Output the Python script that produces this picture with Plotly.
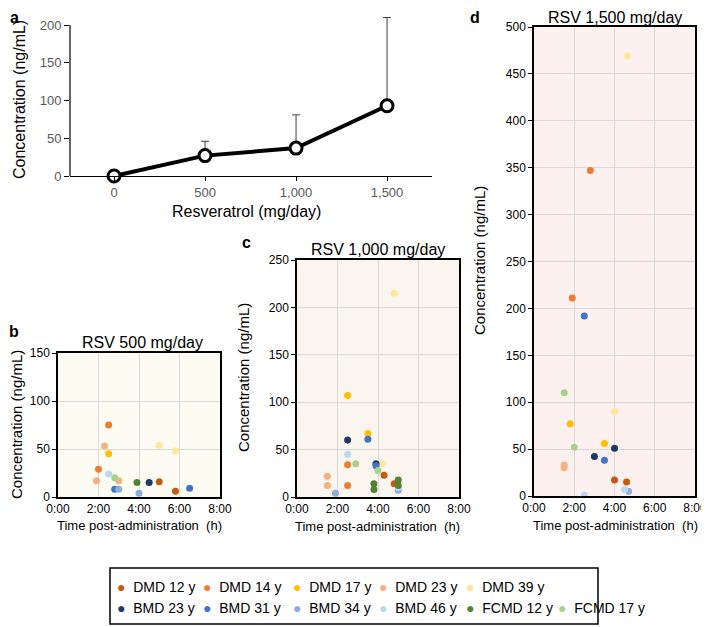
import plotly.graph_objects as go

# ---------------- data ----------------
doses = [0, 500, 1000, 1500]
mean_conc = [0, 27, 37, 93]
sd_plus = [0, 19, 44, 117]

subjects = ["DMD 12 y", "DMD 14 y", "DMD 17 y", "DMD 23 y", "DMD 39 y",
            "BMD 23 y", "BMD 31 y", "BMD 34 y", "BMD 46 y", "FCMD 12 y", "FCMD 17 y"]
colors = ["#C55A11", "#ED7D31", "#FFC000", "#F4B183", "#FFE699",
          "#203864", "#4472C4", "#8FAADC", "#BDD7EE", "#548235", "#A9D18E"]

# RSV 500 mg/day: time (h), concentration (ng/mL)
b_time = {
    "DMD 12 y": [5.0, 5.8], "DMD 14 y": [2.5, 2.0], "DMD 17 y": [2.5],
    "DMD 23 y": [2.3, 1.9, 3.0], "DMD 39 y": [5.0, 5.8], "BMD 23 y": [4.5],
    "BMD 31 y": [2.8, 6.5], "BMD 34 y": [3.0, 4.0], "BMD 46 y": [2.5],
    "FCMD 12 y": [3.9], "FCMD 17 y": [2.8]}
b_conc = {
    "DMD 12 y": [16, 6], "DMD 14 y": [75, 29], "DMD 17 y": [45],
    "DMD 23 y": [53, 17, 17], "DMD 39 y": [54, 48], "BMD 23 y": [15],
    "BMD 31 y": [8, 9], "BMD 34 y": [8, 4], "BMD 46 y": [24],
    "FCMD 12 y": [15], "FCMD 17 y": [20]}

# RSV 1,000 mg/day
c_time = {
    "DMD 12 y": [4.3, 4.8], "DMD 14 y": [2.5, 2.5], "DMD 17 y": [2.5, 3.5],
    "DMD 23 y": [1.5, 1.5], "DMD 39 y": [4.8, 4.2], "BMD 23 y": [2.5, 3.9],
    "BMD 31 y": [3.5, 3.9], "BMD 34 y": [1.9, 5.0], "BMD 46 y": [2.5, 5.0],
    "FCMD 12 y": [3.8, 3.8, 5.0, 5.0], "FCMD 17 y": [2.9, 4.0]}
c_conc = {
    "DMD 12 y": [23, 14], "DMD 14 y": [34, 12], "DMD 17 y": [107, 67],
    "DMD 23 y": [22, 12], "DMD 39 y": [215, 35], "BMD 23 y": [60, 35],
    "BMD 31 y": [61, 33], "BMD 34 y": [4, 7], "BMD 46 y": [45, 10],
    "FCMD 12 y": [14, 8, 18, 12], "FCMD 17 y": [35, 28]}

# RSV 1,500 mg/day
d_time = {
    "DMD 12 y": [4.0, 4.6], "DMD 14 y": [2.8, 1.9], "DMD 17 y": [1.8, 3.5],
    "DMD 23 y": [1.5, 1.5], "DMD 39 y": [4.65, 4.0], "BMD 23 y": [4.0, 3.0],
    "BMD 31 y": [2.5, 3.5], "BMD 34 y": [4.7], "BMD 46 y": [2.5, 4.5],
    "FCMD 12 y": [], "FCMD 17 y": [1.5, 2.0]}
d_conc = {
    "DMD 12 y": [17, 15], "DMD 14 y": [347, 211], "DMD 17 y": [77, 56],
    "DMD 23 y": [33, 30], "DMD 39 y": [469, 90], "BMD 23 y": [51, 42],
    "BMD 31 y": [192, 38], "BMD 34 y": [5], "BMD 46 y": [1, 7],
    "FCMD 12 y": [], "FCMD 17 y": [110, 52]}

time_ticks = [0, 2, 4, 6, 8]
time_labels = ["0:00", "2:00", "4:00", "6:00", "8:00"]
dose_ticks = [0, 500, 1000, 1500]
dose_labels = ["0", "500", "1,000", "1,500"]

# ---------------- layout helpers ----------------
# page body has an 8px margin; figure is sized so that it fills the window
OFF = 8
W, H = 709 - OFF, 627 - OFF
FONT = "Liberation Sans, Arial, sans-serif"

def px_x(p):
    return (p - OFF) / W

def px_y(p):
    return 1 - (p - OFF) / H

fig = go.Figure()

# panel a
fig.add_trace(go.Scatter(
    x=doses, y=mean_conc, mode="lines+markers", xaxis="x", yaxis="y",
    line=dict(color="black", width=4),
    marker=dict(size=12, color="white", line=dict(color="black", width=3)),
    error_y=dict(type="data", symmetric=False, array=sd_plus,
                 arrayminus=[0] * len(sd_plus), color="#404040",
                 thickness=1, width=4),
    cliponaxis=False, showlegend=False))

# panels b, c, d
for (tdict, cdict, xa, ya) in [(b_time, b_conc, "x2", "y2"),
                               (c_time, c_conc, "x3", "y3"),
                               (d_time, d_conc, "x4", "y4")]:
    for s, col in zip(subjects, colors):
        if not tdict[s]:
            continue
        fig.add_trace(go.Scatter(
            x=tdict[s], y=cdict[s], mode="markers", name=s,
            xaxis=xa, yaxis=ya, marker=dict(size=7, color=col),
            cliponaxis=False, showlegend=False))

grid = "#D9D9D9"

def time_axis(x0, x1, anchor):
    return dict(domain=[px_x(x0), px_x(x1)], range=[0, 8], anchor=anchor,
                tickvals=time_ticks, ticktext=time_labels, automargin=False,
                showgrid=True, gridcolor=grid, gridwidth=1,
                showline=True, linecolor="black", linewidth=1.5, mirror=True,
                ticks="", zeroline=False,
                tickfont=dict(family=FONT, size=12, color="black"))

def conc_axis(y_bottom, y_top, rng, anchor):
    return dict(domain=[px_y(y_bottom), px_y(y_top)], range=rng, anchor=anchor,
                dtick=50, showgrid=True, gridcolor=grid, gridwidth=1,
                automargin=False,
                showline=True, linecolor="black", linewidth=1.5, mirror=True,
                ticks="outside", ticklen=4, tickcolor="black", zeroline=False,
                tickfont=dict(family=FONT, size=12, color="black"))

fig.update_layout(
    width=W, height=H, autosize=False,
    margin=dict(l=0, r=0, t=0, b=0, pad=0, autoexpand=False),
    paper_bgcolor="white", plot_bgcolor="white",
    font=dict(family=FONT, color="black"),
    showlegend=False,
    xaxis=dict(domain=[px_x(70), px_x(432)], range=[-242, 1747], anchor="y",
               tickvals=dose_ticks, ticktext=dose_labels, showgrid=False,
               automargin=False,
               showline=True, linecolor="black", linewidth=1.2,
               ticks="outside", ticklen=4, tickcolor="black", zeroline=False,
               tickfont=dict(family=FONT, size=13, color="#595959")),
    yaxis=dict(domain=[px_y(176), px_y(16)], range=[0, 212], anchor="x",
               tickvals=[0, 50, 100, 150, 200], showgrid=False, showline=False,
               automargin=False,
               ticks="outside", ticklen=5, tickcolor="black", zeroline=False,
               tickfont=dict(family=FONT, size=13, color="#595959")),
    xaxis2=time_axis(58, 220, "y2"),
    yaxis2=conc_axis(497, 353, [0, 150], "x2"),
    xaxis3=time_axis(297, 459, "y3"),
    yaxis3=conc_axis(497, 260, [0, 250], "x3"),
    xaxis4=time_axis(534, 695, "y4"),
    yaxis4=conc_axis(496, 27, [0, 500], "x4"),
)

# plot area backgrounds
for (xd, yd, col) in [("x2", "y2", "#FCFCF2"), ("x3", "y3", "#FBF5F0"),
                      ("x4", "y4", "#FDF1EF")]:
    fig.add_shape(type="rect", xref=xd + " domain", yref=yd + " domain",
                  x0=0, x1=1, y0=0, y1=1, fillcolor=col, line_width=0,
                  layer="below")

# y axis line for panel a (up to 200 only)
fig.add_shape(type="line", xref="x domain", yref="y", x0=0, x1=0, y0=0, y1=200,
              line=dict(color="black", width=1.2))

ann = []
def text(x, y, s, size, angle=0, bold=False, color="black", xanchor="center",
         yanchor="middle"):
    ann.append(dict(x=px_x(x), y=px_y(y), xref="paper", yref="paper",
                    text=("<b>%s</b>" % s) if bold else s, showarrow=False,
                    textangle=angle, xanchor=xanchor, yanchor=yanchor,
                    borderpad=0,
                    font=dict(family=FONT, size=size, color=color)))

# panel letters (kept inside the drawable area)
text(14, 8, "a", 16, bold=True, yanchor="top")
text(14, 331, "b", 16, bold=True)
text(246, 242, "c", 16, bold=True)
text(475, 8, "d", 16, bold=True, yanchor="top")

# titles
text(142, 342, "RSV 500 mg/day", 16)
text(378, 249, "RSV 1,000 mg/day", 16)
text(615, 8, "RSV 1,500 mg/day", 16, yanchor="top")

# axis titles
text(19, 100, "Concentration (ng/mL)", 16, angle=-90)
text(246, 211, "Resveratrol (mg/day)", 16)
text(16, 425, "Concentration (ng/mL)", 15, angle=-90)
text(243, 378, "Concentration (ng/mL)", 15, angle=-90)
text(480, 261, "Concentration (ng/mL)", 15, angle=-90)
text(139, 525, "Time post-administration  (h)", 13)
text(378, 526, "Time post-administration  (h)", 13)
text(615, 525, "Time post-administration  (h)", 13)

# legend (manual)
fig.add_shape(type="rect", xref="paper", yref="paper",
              x0=px_x(110), x1=px_x(598), y0=px_y(624), y1=px_y(568),
              line=dict(color="black", width=1.5), fillcolor="white")
col_x = [120, 206, 296, 382, 469, 561]
rows = [(587, subjects[:5], colors[:5]), (608, subjects[5:], colors[5:])]
for (ry, names, cols) in rows:
    for i, (n, c) in enumerate(zip(names, cols)):
        ann.append(dict(x=px_x(col_x[i] - 5), y=px_y(ry), xref="paper", yref="paper",
                        text='<span style="color:%s">●</span>  %s' % (c, n),
                        showarrow=False, xanchor="left", yanchor="middle",
                        font=dict(family=FONT, size=14, color="black")))

fig.update_layout(annotations=ann)
fig.write_html("out.html")
